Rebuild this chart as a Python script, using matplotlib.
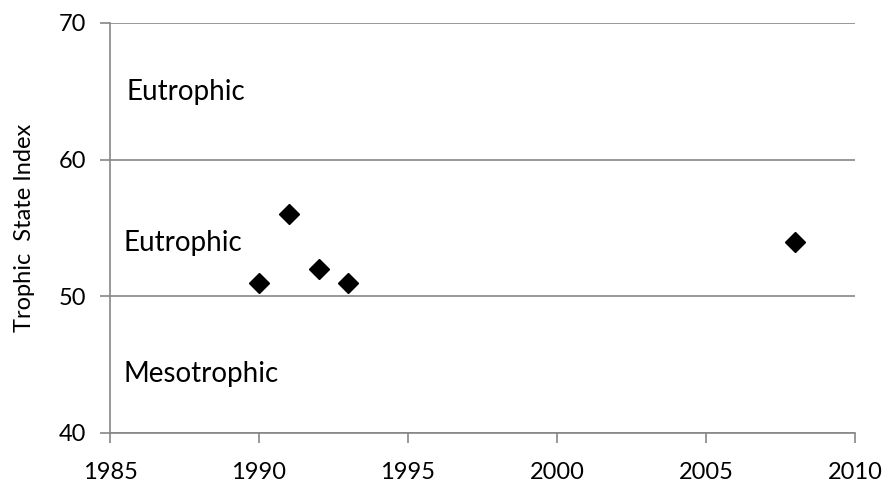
import matplotlib.pyplot as plt

years = [1990, 1991, 1992, 1993, 2008]
tsi = [51, 56, 52, 51, 54]

zones = ["Eutrophic", "Eutrophic", "Mesotrophic"]
zone_x = [1985.54, 1985.44, 1985.44]
zone_y = [64.37, 53.34, 43.75]

plt.rcParams["font.family"] = ["Lato", "DejaVu Sans"]

fig = plt.figure(figsize=(8.85, 4.87), dpi=100)
ax = fig.add_axes([0.1243, 0.1109, 0.8418, 0.8419])

grid_col = "#868686"
ax.set_xlim(1985, 2010)
ax.set_ylim(40, 70)
ax.set_xticks(range(1985, 2011, 5))
ax.set_yticks([40, 50, 60, 70])
ax.yaxis.grid(True, color=grid_col, linewidth=1.2)
ax.set_axisbelow(True)

for s in ["top", "right"]:
    ax.spines[s].set_visible(False)
for s in ["left", "bottom"]:
    ax.spines[s].set_color(grid_col)
    ax.spines[s].set_linewidth(1.2)
ax.tick_params(axis="both", colors=grid_col, length=7, width=1.2,
               labelcolor="black", labelsize=17)
ax.tick_params(axis="x", pad=14)
ax.tick_params(axis="y", pad=10)

ax.plot(years, tsi, linestyle="none", marker="D", markersize=10.5,
        color="black", clip_on=False)

for name, x, y in zip(zones, zone_x, zone_y):
    ax.text(x, y, name, fontsize=20, va="baseline", ha="left")

# axis title placed by hand, centred on the plot area
fig.text(25 / 885, 1 - 228 / 487, "Trophic  State Index", fontsize=17,
         rotation=90, ha="center", va="center")

fig.savefig("out.png", dpi=100)
